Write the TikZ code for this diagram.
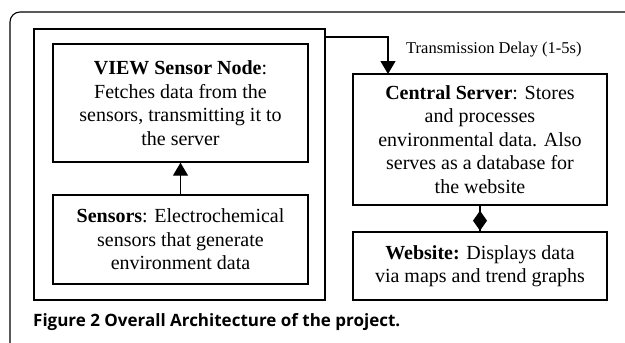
\documentclass[tikz,border=0pt]{standalone}
\usepackage{fontspec}
\setmainfont{Liberation Serif}
\newfontfamily\capfont{Open Sans}
\usetikzlibrary{arrows.meta,decorations.markings}

\begin{document}
\begin{tikzpicture}[x=1pt, y=-1pt,
  box/.style={draw, line width=1.4pt, align=center, inner sep=0pt,
    font=\fontsize{20}{23.5}\selectfont},
  link/.style={line width=1.3pt},
  flow/.style={link, -{Triangle[length=13pt,width=15pt]}}]

\useasboundingbox (0,0) rectangle (625,343);

% figure frame
\draw[line width=1.1pt, rounded corners=10pt] (625,12) -- (10,12) -- (10,343);

% sensor node side
\node[box, minimum width=291pt, minimum height=271pt] (nodebox) at (179.5,164.5) {};
\node[box, minimum width=255pt, minimum height=118pt] (view) at (180.5,103)
  {\textbf{VIEW Sensor Node}:\\ Fetches data from the\\ sensors, transmitting it to\\ the server};
\node[box, minimum width=255pt, minimum height=89pt] (sensors) at (180.5,239.5)
  {\textbf{Sensors}: Electrochemical\\ sensors that generate\\ environment data};

% server side
\node[box, minimum width=254pt, minimum height=131pt] (server) at (480,139.5)
  {\textbf{Central Server}: Stores\\ and processes\\ environmental data. Also\\ serves as a database for\\ the website};
\node[box, minimum width=254pt, minimum height=68pt] (website) at (480,266)
  {\textbf{Website:} Displays data\\ via maps and trend graphs};

% connectors
\draw[flow] (sensors) -- (view);

\coordinate (txout) at (325,37);
\coordinate (txin) at (388,74);
\draw[flow] (txout) -| (txin);
\node[anchor=base west, inner sep=0pt, font=\fontsize{16.5}{20}\selectfont] (delay) at (406,53)
  {Transmission Delay (1-5s)};

\draw[link, decoration={markings,
    mark=at position 25pt with {\arrow{Diamond[length=20pt,width=14pt]}}},
  postaction={decorate}] (server) -- (website);

% caption
\node[anchor=base west, inner sep=0pt, font=\capfont\bfseries\fontsize{17}{20}\selectfont]
  (caption) at (33,326) {Figure 2 Overall Architecture of the project.};

\end{tikzpicture}
\end{document}
